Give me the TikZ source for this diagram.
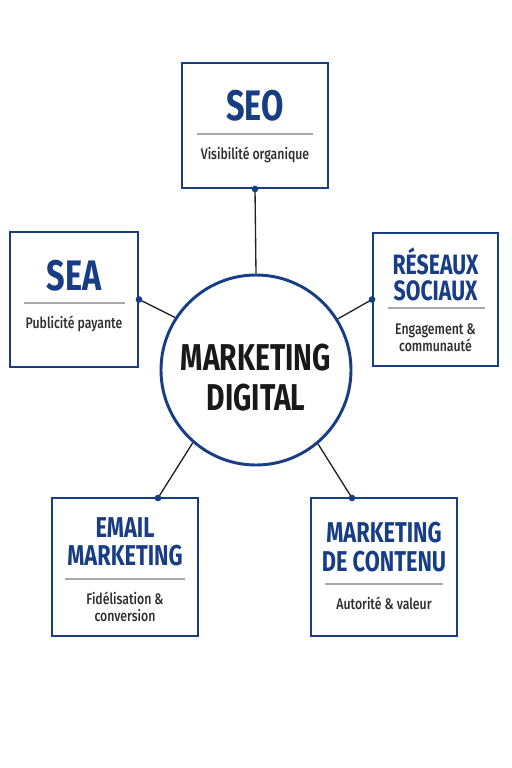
\documentclass[tikz,border=0pt]{standalone}
\usepackage{fontspec}
\setmainfont{Fira Sans}[FakeStretch=0.76]
\newfontfamily\subfont{Fira Sans Medium}[FakeStretch=0.8]
\usetikzlibrary{calc}
\definecolor{navy}{HTML}{173D85}
\definecolor{subgray}{HTML}{2E2E2E}
\definecolor{divgray}{HTML}{A8A8A8}
\definecolor{linegray}{HTML}{222222}
\tikzset{
  boxst/.style={draw=navy, line width=1.5pt, fill=white, inner sep=0pt},
  ttl/.style={text=navy, font=\bfseries, align=center, inner sep=0pt},
  subt/.style={text=subgray, font=\subfont\fontsize{11.5}{12.75}\selectfont, align=center, inner sep=0pt},
  divider/.style={draw=divgray, line width=0.8pt},
  conn/.style={draw=linegray, line width=1pt},
  dotst/.style={fill=navy, circle, inner sep=0pt, minimum size=5pt},
}
\begin{document}
\begin{tikzpicture}[x=0.75pt, y=-0.75pt]
\useasboundingbox (0,0) rectangle (511,768);
% boxes
\node[boxst, minimum width=109.5pt, minimum height=93.75pt] (seo) at (255,125.5) {};
\node[boxst, minimum width=96pt, minimum height=101.25pt] (sea) at (74,299.5) {};
\node[boxst, minimum width=93.75pt, minimum height=99.75pt] (res) at (435.5,299.5) {};
\node[boxst, minimum width=109.5pt, minimum height=103.5pt] (email) at (125,567) {};
\node[boxst, minimum width=109.5pt, minimum height=103.5pt] (cont) at (384,567) {};
% circle
\node[draw=navy, line width=2.2pt, circle, minimum size=142.5pt, inner sep=0pt, fill=white] (circ) at (256,370) {};
\node[inner sep=0pt, align=center, text=black!90, font=\fontsize{28}{30}\selectfont\bfseries] (circtxt) at (256,378) {MARKETING\\DIGITAL};
% titles
\node[ttl, font=\fontsize{32}{32}\selectfont\bfseries] (seot) at (255,106) {SEO};
\node[subt] (seos) at (255,155) {Visibilité organique};
\node[ttl, font=\fontsize{32}{32}\selectfont\bfseries] (seat) at (74,276) {SEA};
\node[subt] (seas) at (74,324) {Publicité payante};
\node[ttl, font=\fontsize{21}{19.5}\selectfont\bfseries] (rest) at (435.5,274) {RÉSEAUX\\SOCIAUX};
\node[subt] (ress) at (435.5,337.5) {Engagement \&\\communauté};
\node[ttl, font=\fontsize{21.5}{21}\selectfont\bfseries] (emailt) at (125,542) {EMAIL\\MARKETING};
\node[subt] (emails) at (125,607) {Fidélisation \&\\conversion};
\node[ttl, font=\fontsize{21.5}{21.75}\selectfont\bfseries] (contt) at (384,547.5) {MARKETING\\DE CONTENU};
\node[subt] (conts) at (384,603) {Autorité \& valeur};
% dividers
\draw[divider] (197,134) -- (313,134);
\draw[divider] (24,303) -- (125,303);
\draw[divider] (388,308) -- (485,308);
\draw[divider] (65,579) -- (185,579);
\draw[divider] (325,584) -- (443,584);
% connector anchors
\coordinate (seod) at (seo.south);
\coordinate (sead) at (sea.east);
\coordinate (resd) at (res.west);
\coordinate (emaild) at (158,498);
\coordinate (contd) at (352,498);
\draw[conn] (seod) -- (circ.90);
\draw[conn] (sead) -- (circ.147.7);
\draw[conn] (resd) -- (circ.32);
\draw[conn] (emaild) -- (circ.229.2);
\draw[conn] (contd) -- (circ.310.3);
\node[dotst] (seodot) at (seod) {};
\node[dotst] (seadot) at (sead) {};
\node[dotst] (resdot) at (resd) {};
\node[dotst] (emaildot) at (emaild) {};
\node[dotst] (contdot) at (contd) {};
\end{tikzpicture}
\end{document}
